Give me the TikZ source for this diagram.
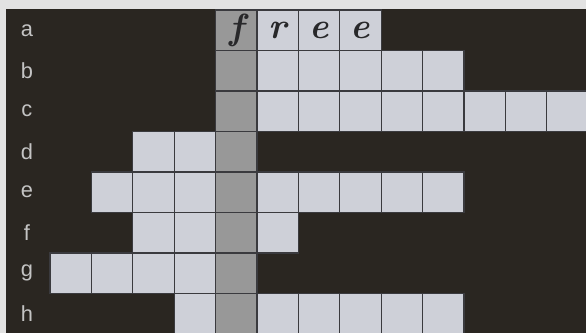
\documentclass[tikz,border=0pt]{standalone}
\usepackage{xcolor}
\usepackage{fontspec}
\usepackage{tikz}
\usetikzlibrary{positioning}
\newfontfamily\labfont{Liberation Sans}
\definecolor{mydark}{RGB}{42,38,33}
\definecolor{mypaper}{RGB}{226,226,226}
\definecolor{mycell}{RGB}{206,208,216}
\definecolor{mykey}{RGB}{152,152,152}
\definecolor{myline}{RGB}{58,58,62}
\definecolor{mylab}{RGB}{196,196,196}
\definecolor{myink}{RGB}{40,40,42}
\tikzset{
  cell/.style={rectangle, draw=myline, fill=mycell, line width=0.9pt,
    minimum width=1cm, minimum height=0.978cm, inner sep=0pt},
  keycell/.style={cell, fill=mykey},
  rowlab/.style={font=\labfont\fontsize{15}{18}\selectfont, text=mylab},
  hand/.style={font=\bfseries\itshape\fontsize{25}{28}\selectfont, text=myink}
}

\begin{document}
\begin{tikzpicture}[x=1cm, y=0.978cm]
  % Frame
  \useasboundingbox (-1.208,0.247) rectangle (12.947,-7.975);
  \fill[mypaper] (-1.208,0.247) rectangle (12.947,-7.975);
  \fill[mydark] (-1.063,0.025) rectangle (13.1,-8.1);

  % Row labels
  \foreach \r/\y in {a/0,b/1,c/2,d/3,e/4,f/5,g/6,h/7}
    \node[rowlab] (lab-\r) at (-0.56,-\y-0.5) {\r};

  % Answer cells
  \foreach \r/\y/\cols in {a/0/{5,6,7}, b/1/{5,...,9}, c/2/{5,...,12},
      d/3/{2,3}, e/4/{1,2,3,5,6,7,8,9}, f/5/{2,3,5}, g/6/{0,...,3},
      h/7/{3,5,6,7,8,9}}
    \foreach \k in \cols
      \node[cell] (\r\k) at (\k+0.5,-\y-0.5) {};

  % Key column
  \foreach \r/\y in {a/0,b/1,c/2,d/3,e/4,f/5,g/6,h/7}
    \node[keycell] (\r4) at (4.5,-\y-0.5) {};

  % Key word
  \node[hand] (let-f) at (a4) {f};
  \node[hand] (let-r) at (a5) {r};
  \node[hand] (let-e1) at (a6) {e};
  \node[hand] (let-e2) at (a7) {e};
\end{tikzpicture}
\end{document}
